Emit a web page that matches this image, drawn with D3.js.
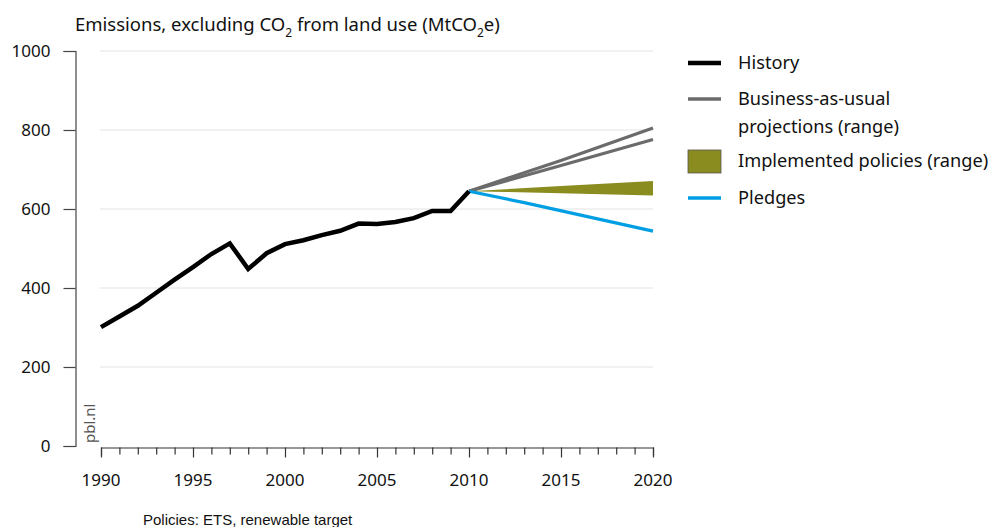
<!DOCTYPE html>
<html>
<head>
<meta charset="utf-8">
<script src="https://cdn.jsdelivr.net/npm/d3@7"></script>
<style>
  html, body { margin: 0; padding: 0; background: #fff; }
  svg { display: block; }
  text { font-family: "Noto Sans", "Open Sans", sans-serif; fill: #111; }
</style>
</head>
<body>
<svg id="chart" width="992" height="527"></svg>
<script>
// Emission history (MtCO2e) and projections to 2020
const historyYears = d3.range(1990, 2011);
const historyValues = [301, 328, 355, 388, 421, 453, 486, 513, 448, 488, 511, 521, 534, 545, 563, 562, 567, 577, 595, 595, 645];

const projYears = [2010, 2015, 2020];
const bauHigh = [645, 723, 805];
const bauLow = [645, 710, 776];

const policyYears = [2010, 2012, 2015, 2020];
const policyHigh = [645, 650, 658, 671];
const policyLow = [645, 643, 640, 634];

const pledgeYears = [2010, 2013, 2020];
const pledgeValues = [645, 616, 544];

const yTicks = [0, 200, 400, 600, 800, 1000];
const xLabelYears = [1990, 1995, 2000, 2005, 2010, 2015, 2020];

const legendItems = [
  { type: "line", color: "#000000", width: 4.5, lines: ["History"] },
  { type: "line", color: "#6b6b6b", width: 3.5, lines: ["Business-as-usual", "projections (range)"] },
  { type: "box", color: "#8b8c1f", lines: ["Implemented policies (range)"] },
  { type: "line", color: "#009fe3", width: 3.5, lines: ["Pledges"] }
];

const svg = d3.select("#chart");

const x = d3.scaleLinear().domain([1990, 2020]).range([101, 653]);
const y = d3.scaleLinear().domain([0, 1000]).range([446, 51]);

// gridlines
svg.append("g")
  .selectAll("line")
  .data(yTicks.filter(d => d > 0))
  .join("line")
  .attr("x1", 100).attr("x2", 653)
  .attr("y1", d => y(d)).attr("y2", d => y(d))
  .attr("stroke", "#e3e3e3").attr("stroke-width", 1);

// y axis
const yAxis = svg.append("g")
  .attr("transform", "translate(75.5,0)")
  .call(d3.axisLeft(y).tickValues(yTicks).tickSize(12).tickSizeOuter(12).tickPadding(13).tickFormat(d3.format("d")));
yAxis.selectAll("path, line").attr("stroke", "#444").attr("stroke-width", 1.2);
yAxis.selectAll("text").attr("font-size", 17).attr("fill", "#111")
  .style("font-family", '"Noto Sans", "Open Sans", sans-serif');

// x axis
const xAxis = svg.append("g")
  .attr("transform", "translate(0,447.5)")
  .call(d3.axisBottom(x).tickValues(historyYears.concat(d3.range(2011, 2021))).tickSize(8).tickSizeOuter(8).tickFormat(""));
xAxis.selectAll("path, line").attr("stroke", "#333").attr("stroke-width", 1.2);
xAxis.selectAll(".tick line").attr("y2", d => xLabelYears.includes(d) ? 10 : 7);

svg.append("g")
  .selectAll("text")
  .data(xLabelYears)
  .join("text")
  .attr("x", d => x(d))
  .attr("y", 486)
  .attr("text-anchor", "middle")
  .attr("font-size", 17)
  .text(d => d);

// implemented policies band
const area = d3.area()
  .x((d, i) => x(policyYears[i]))
  .y0((d, i) => y(policyLow[i]))
  .y1((d, i) => y(policyHigh[i]));
svg.append("path")
  .datum(policyYears)
  .attr("d", area)
  .attr("fill", "#8b8c1f");

const line = d3.line().x(d => x(d[0])).y(d => y(d[1]));

// business-as-usual range
[bauHigh, bauLow].forEach(vals => {
  svg.append("path")
    .datum(projYears.map((yr, i) => [yr, vals[i]]))
    .attr("d", line)
    .attr("fill", "none")
    .attr("stroke", "#6b6b6b")
    .attr("stroke-width", 3.2);
});

// pledges
svg.append("path")
  .datum(pledgeYears.map((yr, i) => [yr, pledgeValues[i]]))
  .attr("d", line)
  .attr("fill", "none")
  .attr("stroke", "#009fe3")
  .attr("stroke-width", 3.2);

// history
svg.append("path")
  .datum(historyYears.map((yr, i) => [yr, historyValues[i]]))
  .attr("d", line)
  .attr("fill", "none")
  .attr("stroke", "#000")
  .attr("stroke-width", 4.5)
  .attr("stroke-linejoin", "miter");

// title with subscripts
const title = svg.append("text").attr("x", 75).attr("y", 31).attr("font-size", 18.5);
title.append("tspan").text("Emissions, excluding CO");
title.append("tspan").attr("font-size", 12).attr("dy", 6).text("2");
title.append("tspan").attr("dy", -6).text(" from land use (MtCO");
title.append("tspan").attr("font-size", 12).attr("dy", 6).text("2");
title.append("tspan").attr("dy", -6).text("e)");

// source tag
svg.append("text")
  .attr("transform", "translate(95,443) rotate(-90)")
  .attr("font-size", 15)
  .style("fill", "#555")
  .text("pbl.nl");

// legend
const legendRows = [63, 99, 161, 198];
const legend = svg.append("g");
legendItems.forEach((item, i) => {
  const cy = legendRows[i];
  if (item.type === "line") {
    legend.append("line")
      .attr("x1", 688).attr("x2", 721)
      .attr("y1", cy).attr("y2", cy)
      .attr("stroke", item.color).attr("stroke-width", item.width);
  } else {
    legend.append("rect")
      .attr("x", 688).attr("y", cy - 11)
      .attr("width", 33).attr("height", 23)
      .attr("fill", item.color)
      .attr("stroke", "#555").attr("stroke-width", 0.8);
  }
  item.lines.forEach((t, j) => {
    legend.append("text")
      .attr("x", 738).attr("y", cy + 6 + j * 28)
      .attr("font-size", 18.2)
      .text(t);
  });
});

// footnote
svg.append("text")
  .attr("x", 143).attr("y", 525)
  .attr("font-size", 15)
  .style("font-family", '"Liberation Sans", Arial, sans-serif')
  .text("Policies: ETS, renewable target");
</script>
</body>
</html>
